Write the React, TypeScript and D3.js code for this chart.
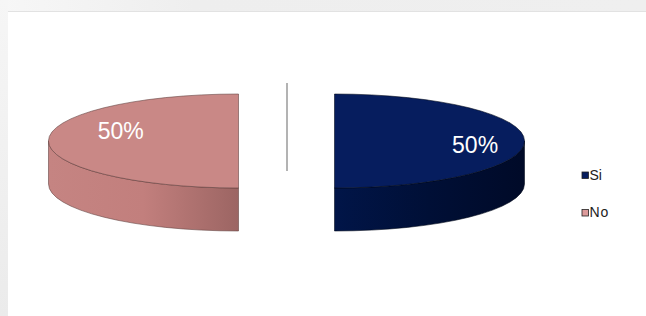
import * as d3 from "d3";

// slice data
const labels = ["Si", "No"];
const values = [50, 50];
const topColors = ["#061d5e", "#c98886"];
const sideLight = ["#011548", "#c58482"];
const sideDark = ["#000a28", "#9c6563"];
const legendColors = ["#061d5e", "#dc9a9a"];

const W = 646;
const H = 316;

export default function App() {
  const cx = 286.5;
  const cy = 141;
  const rx = 190;
  const ry = 47;
  const depth = 43;
  const explode = 48;

  const pie = d3.pie<number>().sort(null).startAngle(0).endAngle(2 * Math.PI);
  const arcs = pie(values);
  const total = d3.sum(values);

  // elliptical point, angle 0 at top, clockwise
  const pt = (ox: number, oy: number, a: number, dz = 0): [number, number] => [
    ox + rx * Math.sin(a),
    oy - ry * Math.cos(a) + dz,
  ];

  const labelPos = [0.74, 0.62];
  const labelDy = [4, -10];

  const slices = arcs.map((a, i) => {
    const mid = (a.startAngle + a.endAngle) / 2;
    const ox = cx + Math.sin(mid) * explode;
    const oy = cy - Math.cos(mid) * explode * (ry / rx);

    const top = d3.path();
    top.moveTo(ox, oy);
    const [sx, sy] = pt(ox, oy, a.startAngle);
    const [ex, ey] = pt(ox, oy, a.endAngle);
    top.lineTo(sx, sy);
    const large = a.endAngle - a.startAngle > Math.PI ? 1 : 0;
    const topD = `${top.toString()}A${rx},${ry} 0 ${large} 1 ${ex},${ey}Z`;

    // visible outer wall: front half between PI/2 and 3PI/2
    const s0 = Math.max(a.startAngle, Math.PI / 2);
    const s1 = Math.min(a.endAngle, (3 * Math.PI) / 2);
    let sideD = "";
    let x0 = 0;
    let x1 = 0;
    if (s1 > s0) {
      const [p0x, p0y] = pt(ox, oy, s0);
      const [p1x, p1y] = pt(ox, oy, s1);
      sideD =
        `M${p0x},${p0y}A${rx},${ry} 0 0 1 ${p1x},${p1y}` +
        `L${p1x},${p1y + depth}A${rx},${ry} 0 0 0 ${p0x},${p0y + depth}Z`;
      x0 = Math.min(p0x, p1x);
      x1 = Math.max(p0x, p1x);
    }
    const [lx, ly] = pt(ox, oy, mid);
    const label = {
      x: ox + (lx - ox) * labelPos[i],
      y: oy + (ly - oy) * labelPos[i] + labelDy[i],
    };
    return { topD, sideD, x0, x1, label, pct: d3.format(".0%")(a.data / total), i };
  });

  return (
    <svg
      width={W}
      height={H}
      style={{ position: "absolute", left: 0, top: 0 }}
      fontFamily="'Liberation Sans', Arial, sans-serif"
    >
      <defs>
        <linearGradient id="topband" x1="0" x2="1" y1="0" y2="0">
          <stop offset="0" stopColor="#f7f7f7" />
          <stop offset="0.3" stopColor="#eeeeee" />
          <stop offset="1" stopColor="#efefef" />
        </linearGradient>
        <linearGradient id="leftband" x1="0" x2="0" y1="0" y2="1">
          <stop offset="0" stopColor="#f6f6f6" />
          <stop offset="1" stopColor="#ebebeb" />
        </linearGradient>
        {slices.map((s) => (
          <linearGradient
            key={s.i}
            id={`side${s.i}`}
            gradientUnits="userSpaceOnUse"
            x1={s.x0}
            x2={s.x1}
            y1={0}
            y2={0}
          >
            <stop offset="0" stopColor={sideLight[s.i]} />
            <stop offset="0.5" stopColor={s.i === 0 ? "#000f36" : "#c27f7d"} />
            <stop offset="1" stopColor={sideDark[s.i]} />
          </linearGradient>
        ))}
      </defs>

      <rect x={0} y={0} width={W} height={H} fill="#ffffff" />
      <rect x={0} y={0} width={W} height={11} fill="url(#topband)" />
      <line x1={8} x2={W} y1={11.5} y2={11.5} stroke="#e2e2e2" />
      <rect x={0} y={0} width={8} height={H} fill="url(#leftband)" />

      {slices.map((s) => (
        <g key={s.i}>
          {s.sideD && (
            <path
              d={s.sideD}
              fill={`url(#side${s.i})`}
              stroke={s.i === 0 ? "#000818" : "#5e3d3c"}
              strokeOpacity={0.7}
              strokeWidth={0.8}
            />
          )}
          <path
            d={s.topD}
            fill={topColors[s.i]}
            stroke={s.i === 0 ? "#000818" : "#5e3d3c"}
            strokeOpacity={0.7}
            strokeWidth={0.8}
          />
        </g>
      ))}

      <line x1={287} x2={287} y1={83} y2={171} stroke="#9a9a9a" strokeWidth={1.5} />

      {slices.map((s) => (
        <text
          key={s.i}
          x={s.label.x}
          y={s.label.y}
          textAnchor="middle"
          dominantBaseline="central"
          fill="#ffffff"
          fontSize={23}
        >
          {s.pct}
        </text>
      ))}

      {labels.map((l, i) => (
        <g key={l} transform={`translate(581.5,${171.5 + i * 37.5})`}>
          <rect x={0.5} y={0.5} width={6.5} height={6.5} fill={legendColors[i]} stroke="#222" strokeWidth={0.8} />
          <text x={8} y={8} fontSize={14} fill="#222" letterSpacing={i === 1 ? 1 : 0}>
            {l}
          </text>
        </g>
      ))}
    </svg>
  );
}
